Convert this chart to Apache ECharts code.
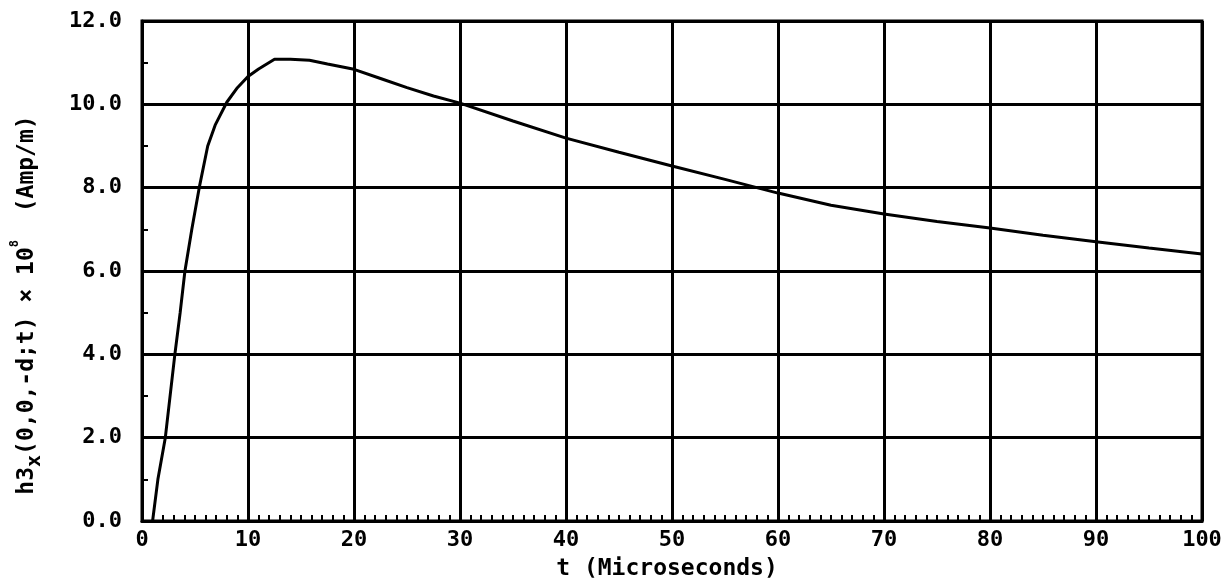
<!DOCTYPE html>
<html>
<head>
<meta charset="utf-8">
<script src="https://cdn.jsdelivr.net/npm/echarts@6/dist/echarts.min.js"></script>
<style>
  html, body { margin: 0; background: #fff; }
  #main { width: 1232px; height: 586px; }
</style>
</head>
<body>
<div id="main"></div>
<script>
// t in microseconds
var tMicro = [1.0, 1.5, 2.2, 3.1, 3.6, 4.05, 4.7, 5.4, 6.2, 6.9, 8.0, 9.0, 10.0, 11.0, 12.5, 14.0, 15.8, 17.5,
  20, 22.5, 25, 27.5, 30, 35, 40, 45, 50, 55, 60, 65, 70, 75, 80, 85, 90, 95, 100]
// h3x(0,0,-d;t) x 10^8 (Amp/m)
var h3x = [0.0, 1.0, 2.0, 4.0, 5.0, 6.0, 7.0, 8.0, 9.0, 9.5, 10.05, 10.4, 10.67, 10.85, 11.08, 11.08, 11.06, 10.97,
  10.84, 10.62, 10.4, 10.2, 10.03, 9.6, 9.19, 8.85, 8.52, 8.2, 7.87, 7.58, 7.37, 7.19, 7.03, 6.86, 6.7, 6.55, 6.41]

var xTitle = 't (Microseconds)'
var yTitle = '{m|h3}{sub|x}{m|(0,0,-d;t) × 10}{sup|8}{m|  (Amp/m)}'

var font = 'DejaVu Sans Mono'

var chart = echarts.init(document.getElementById('main'))
chart.setOption({
    backgroundColor: '#fff',
    animation: false,
    grid: {
        left: 142, right: 30, top: 21, bottom: 63,
        show: true,
        borderColor: '#000',
        borderWidth: 3,
    },
    xAxis: {
        type: 'value',
        min: 0, max: 100, interval: 10,
        name: xTitle,
        nameLocation: 'middle',
        nameGap: 37,
        nameTextStyle: { fontFamily: font, fontWeight: 'bold', fontSize: 23, color: '#000', padding: [0, 10, 0, 0] },
        axisLine: { lineStyle: { color: '#000', width: 3 } },
        axisTick: { show: true, inside: true, length: 6, lineStyle: { color: '#000', width: 2 } },
        minorTick: { show: true, splitNumber: 10, length: 6, lineStyle: { color: '#000', width: 2 } },
        splitLine: { show: true, lineStyle: { color: '#000', width: 3 } },
        axisLabel: {
            margin: 8,
            fontFamily: font, fontWeight: 'bold', fontSize: 22, color: '#000',
        },
    },
    yAxis: {
        type: 'value',
        min: 0, max: 12, interval: 2,
        axisLine: { show: true, lineStyle: { color: '#000', width: 3 } },
        axisTick: { show: true, inside: true, length: 6, lineStyle: { color: '#000', width: 2 } },
        minorTick: { show: true, splitNumber: 2, length: 6, lineStyle: { color: '#000', width: 2 } },
        splitLine: { show: true, lineStyle: { color: '#000', width: 3 } },
        axisLabel: {
            margin: 20,
            fontFamily: font, fontWeight: 'bold', fontSize: 22, color: '#000',
            formatter: function (v) { return v.toFixed(1) },
        },
    },
    graphic: [{
        type: 'text',
        x: 27, y: 305,
        rotation: Math.PI / 2,
        style: {
            text: yTitle,
            align: 'center',
            verticalAlign: 'middle',
            rich: {
                m: { fontFamily: font, fontWeight: 'bold', fontSize: 23, color: '#000', lineHeight: 36, verticalAlign: 'middle' },
                sub: { fontFamily: font, fontWeight: 'bold', fontSize: 20, color: '#000', lineHeight: 12, verticalAlign: 'bottom' },
                sup: { fontFamily: font, fontWeight: 'bold', fontSize: 12, color: '#000', lineHeight: 14, verticalAlign: 'top' },
            },
        },
    }],
    series: [{
        type: 'line',
        data: tMicro.map(function (t, i) { return [t, h3x[i]] }),
        symbol: 'none',
        lineStyle: { color: '#000', width: 3 },
    }],
})
</script>
</body>
</html>
